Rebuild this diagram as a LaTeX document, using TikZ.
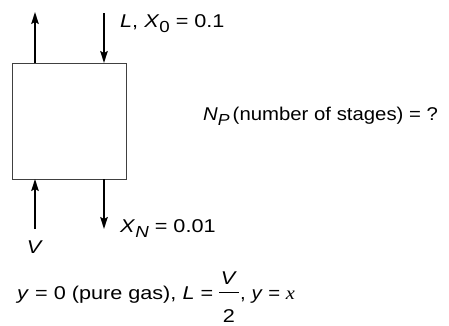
\documentclass[tikz,border=0pt]{standalone}
\usepackage{fontspec}
\setmainfont{Liberation Sans}[FakeStretch=1.17]
\newfontfamily\npfont{Liberation Sans}[FakeStretch=1.1]
\newfontfamily\serifit{Liberation Serif}[FakeStretch=1.1]
\usetikzlibrary{arrows.meta}
\newcommand\lowsub[1]{\raisebox{-5.5pt}{\fontsize{16}{16}\selectfont #1}}
\begin{document}
\begin{tikzpicture}[x=1pt,y=-1pt,
  flow/.style={line width=1.6pt,-{Stealth[length=12pt,width=7.5pt,inset=2pt]}},
  lbl/.style={inner sep=0pt,font=\fontsize{18.5}{22}\selectfont},
  stage/.style={draw=black!75,line width=1pt,inner sep=0pt}]
\useasboundingbox (0,0) rectangle (449,325);
\node[stage,minimum width=114pt,minimum height=116pt] (box) at (69,121) {};
\coordinate (tl) at (35,12);
\coordinate (tr) at (104,13);
\coordinate (bl) at (35,229);
\coordinate (br) at (104,229);
\coordinate (boxtl) at (35,63);
\coordinate (boxtr) at (104,63);
\coordinate (boxbl) at (35,179);
\coordinate (boxbr) at (104,179);
\draw[flow] (boxtl) -- (tl);
\draw[flow] (tr) -- (boxtr);
\draw[flow] (bl) -- (boxbl);
\draw[flow] (boxbr) -- (br);
\node[lbl,anchor=base west] (lin) at (120,27) {\textit{L}, \textit{X}\lowsub{0} = 0.1};
\node[lbl,anchor=base] (vin) at (35,253) {\textit{V}};
\node[lbl,anchor=base west] (xn) at (120,232) {\textit{X}\lowsub{\textit{N}} = 0.01};
\node[lbl,anchor=base west] (np) at (203,120) {\npfont\textit{N}\lowsub{\textit{P}}\,(number of stages) = ?};
\node[lbl,anchor=base west] (eqa) at (17,299) {\textit{y} = 0 (pure gas), \textit{L} =};
\node[lbl,anchor=base] (fnum) at (229,284) {\textit{V}};
\node[lbl,anchor=base] (fden) at (229,322) {2};
\draw[line width=1pt] (219,292) -- (239,292);
\node[lbl,anchor=base west] (eqb) at (240,299) {\npfont, \textit{y} = {\serifit\itshape x}};
\end{tikzpicture}
\end{document}
